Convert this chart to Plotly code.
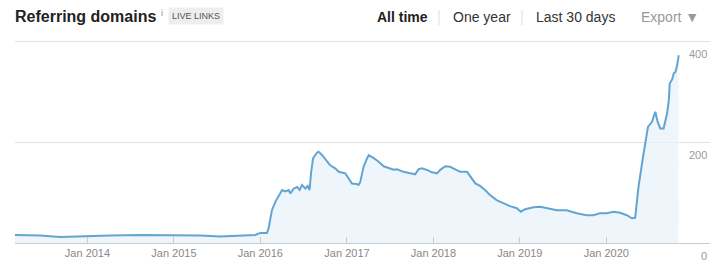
import plotly.graph_objects as go

dates = [
    "2013-03-01", "2013-06-15", "2013-09-08", "2013-11-10", "2014-01-13", "2014-04-08",
    "2014-08-12", "2015-01-07", "2015-04-22", "2015-07-15", "2015-10-08", "2015-12-10",
    "2016-01-01", "2016-01-29", "2016-02-05", "2016-02-19", "2016-03-05", "2016-04-02",
    "2016-04-16", "2016-04-30", "2016-05-07", "2016-05-21", "2016-06-04", "2016-06-15",
    "2016-06-25", "2016-07-09", "2016-07-19", "2016-07-27", "2016-08-02", "2016-08-11",
    "2016-08-27", "2016-09-03", "2016-09-18", "2016-10-09", "2016-10-22", "2016-11-12",
    "2016-11-27", "2016-12-25", "2017-01-08", "2017-01-22", "2017-02-10", "2017-02-19",
    "2017-02-26", "2017-03-12", "2017-03-27", "2017-04-03", "2017-04-24", "2017-05-15",
    "2017-06-05", "2017-07-03", "2017-07-17", "2017-07-31", "2017-08-28", "2017-09-25",
    "2017-10-16", "2017-10-30", "2017-11-13", "2017-12-04", "2017-12-26", "2018-01-16",
    "2018-01-30", "2018-02-20", "2018-03-13", "2018-04-03", "2018-04-24", "2018-05-23",
    "2018-06-06", "2018-06-27", "2018-07-17", "2018-08-07", "2018-08-28", "2018-09-25",
    "2018-10-23", "2018-11-20", "2018-12-19", "2019-01-05", "2019-01-23", "2019-02-28",
    "2019-03-28", "2019-04-25", "2019-06-07", "2019-07-18", "2019-08-29", "2019-10-10",
    "2019-11-07", "2019-12-05", "2020-01-03", "2020-02-01", "2020-02-28", "2020-03-28",
    "2020-04-18", "2020-05-02", "2020-05-16", "2020-05-31", "2020-06-14", "2020-06-25",
    "2020-07-12", "2020-07-26", "2020-08-05", "2020-08-16", "2020-08-30", "2020-09-14",
    "2020-09-21", "2020-09-25", "2020-10-05", "2020-10-12", "2020-10-19", "2020-10-26",
    "2020-11-02",
]
domains = [
    16, 15, 12, 13, 15, 15,
    16, 16, 15, 13, 14, 16,
    20, 20, 29, 65, 82, 105,
    102, 105, 98, 108, 111, 105,
    115, 108, 113, 105, 138, 168,
    179, 181, 174, 161, 154, 148,
    141, 138, 128, 118, 117, 115,
    121, 151, 168, 174, 168, 161,
    152, 148, 145, 146, 141, 138,
    136, 146, 148, 145, 140, 138,
    145, 152, 151, 146, 141, 141,
    131, 118, 113, 105, 95, 85,
    79, 73, 69, 62, 67, 71,
    72, 69, 65, 65, 59, 55,
    55, 59, 59, 62, 60, 55,
    49, 50, 111, 158, 197, 230,
    240, 260, 240, 227, 227, 257,
    283, 316, 324, 336, 339, 352,
    372,
]

x_ticks = ["2014-01-01", "2015-01-01", "2016-01-01", "2017-01-01",
           "2018-01-01", "2019-01-01", "2020-01-01"]
x_tick_labels = ["Jan 2014", "Jan 2015", "Jan 2016", "Jan 2017",
                 "Jan 2018", "Jan 2019", "Jan 2020"]
y_ticks = [0, 200, 400]

title_text = "Referring domains"
badge_text = "LIVE LINKS"
menu_items = ["All time", "One year", "Last 30 days"]
export_text = "Export \u25BC"

FONT = "Liberation Sans, Arial, sans-serif"

fig = go.Figure()
fig.add_trace(go.Scatter(
    x=dates, y=domains, mode="lines",
    line=dict(color="#62a5d3", width=2),
    fill="tozeroy", fillcolor="rgba(232,243,251,0.75)",
    hoverinfo="skip", showlegend=False,
))

L, T, B = 15, 31, 35
W, H = 723, 278
plot_w = W - L - 13
plot_h = H - T - B


def px_x(px):
    return (px - L) / plot_w


def px_y(py):
    return (H - B - py) / plot_h


annotations = [
    dict(text="<b>" + title_text + "</b>", x=px_x(13), y=px_y(16), xref="paper", yref="paper",
         xanchor="left", yanchor="middle", showarrow=False,
         font=dict(family=FONT, size=16, color="#222222")),
    dict(text="i", x=px_x(159), y=px_y(13), xref="paper", yref="paper",
         xanchor="left", yanchor="middle", showarrow=False,
         font=dict(family=FONT, size=9, color="#888888")),
    dict(text=badge_text, x=px_x(196), y=px_y(16.5), xref="paper", yref="paper",
         xanchor="center", yanchor="middle", showarrow=False,
         bgcolor="#eeeeee", borderpad=3,
         font=dict(family=FONT, size=9, color="#555555")),
    dict(text="<b>" + menu_items[0] + "</b>", x=px_x(402.5), y=px_y(17), xref="paper", yref="paper",
         xanchor="center", yanchor="middle", showarrow=False,
         font=dict(family=FONT, size=14, color="#222222")),
    dict(text=menu_items[1], x=px_x(481.5), y=px_y(17), xref="paper", yref="paper",
         xanchor="center", yanchor="middle", showarrow=False,
         font=dict(family=FONT, size=14, color="#333333")),
    dict(text=menu_items[2], x=px_x(575.5), y=px_y(17), xref="paper", yref="paper",
         xanchor="center", yanchor="middle", showarrow=False,
         font=dict(family=FONT, size=14, color="#333333")),
    dict(text=export_text, x=px_x(670), y=px_y(17), xref="paper", yref="paper",
         xanchor="center", yanchor="middle", showarrow=False,
         font=dict(family=FONT, size=14, color="#999999")),
]

# y tick labels drawn below their gridlines, right aligned
for v in y_ticks:
    annotations.append(dict(
        text=str(v), x=1, xref="paper", y=v, yref="y",
        xanchor="right", yanchor="middle", yshift=-13, xshift=-1, showarrow=False,
        font=dict(family=FONT, size=11, color="#999999"),
    ))

shapes = [
    dict(type="line", xref="paper", yref="paper", x0=px_x(439), x1=px_x(439),
         y0=px_y(10), y1=px_y(25), line=dict(color="#dddddd", width=1)),
    dict(type="line", xref="paper", yref="paper", x0=px_x(522), x1=px_x(522),
         y0=px_y(10), y1=px_y(25), line=dict(color="#dddddd", width=1)),
]

fig.update_layout(
    width=W, height=H,
    margin=dict(l=L, r=13, t=T, b=B, pad=0),
    paper_bgcolor="white", plot_bgcolor="white",
    font=dict(family=FONT, size=11, color="#888888"),
    annotations=annotations, shapes=shapes,
    xaxis=dict(
        type="date", range=["2013-03-01", "2021-03-14"],
        tickvals=x_ticks, ticktext=x_tick_labels,
        showgrid=False, zeroline=False,
        showline=True, linecolor="#cccccc", linewidth=1,
        ticks="inside", ticklen=6, tickcolor="#cccccc",
        tickfont=dict(family=FONT, size=11, color="#888888"),
    ),
    yaxis=dict(
        range=[0, 420], tickvals=y_ticks,
        showticklabels=False,
        showgrid=True, gridcolor="#e2e2e2", gridwidth=1,
        zeroline=False, showline=False, ticks="",
    ),
)

fig.write_html("out.html")
